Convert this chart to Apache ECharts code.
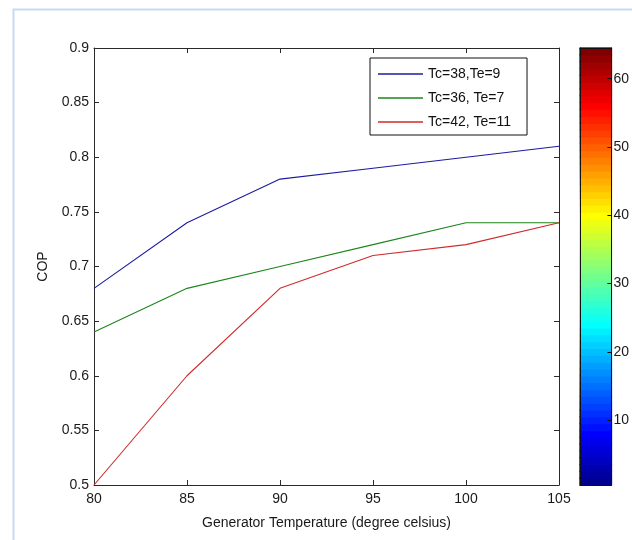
<!DOCTYPE html>
<html>
<head>
<meta charset="utf-8">
<script src="https://cdn.jsdelivr.net/npm/echarts@6/dist/echarts.min.js"></script>
<style>
html,body{margin:0;padding:0;background:#fff;}
#c{width:632px;height:540px;}
</style>
</head>
<body>
<div id="c"></div>
<script>
var xValues = [80, 85, 90, 95, 100, 105];
var seriesNames = ['Tc=38,Te=9', 'Tc=36, Te=7', 'Tc=42, Te=11'];
var copTc38 = [0.68, 0.74, 0.78, 0.79, 0.80, 0.81];
var copTc36 = [0.64, 0.68, 0.70, 0.72, 0.74, 0.74];
var copTc42 = [0.50, 0.60, 0.68, 0.71, 0.72, 0.74];
var colorbarLevels = [1,2,3,4,5,6,7,8,9,10,11,12,13,14,15,16,17,18,19,20,21,22,23,24,25,26,27,28,29,30,31,32,33,34,35,36,37,38,39,40,41,42,43,44,45,46,47,48,49,50,51,52,53,54,55,56,57,58,59,60,61,62,63,64];
var colorbarTicks = [10, 20, 30, 40, 50, 60];

var FONT = '"Liberation Sans", Arial, sans-serif';
var chart = echarts.init(document.getElementById('c'), null, {renderer: 'canvas'});

// MATLAB "jet" colormap (64 entries) as a styling function
function jetChannel(k) {
  if (k < 0 || k >= 47) return 0;
  if (k < 16) return (k + 1) / 16;
  if (k < 31) return 1;
  return (47 - k) / 16;
}
function jetColor(level) {
  var r = Math.round(255 * jetChannel(level - 25));
  var g = Math.round(255 * jetChannel(level - 9));
  var b = Math.round(255 * jetChannel(level + 7));
  return 'rgb(' + r + ',' + g + ',' + b + ')';
}

function pairs(vals) { return xValues.map(function (x, i) { return [x, vals[i]]; }); }
var lineColors = ['#1c1ca0', '#1d861d', '#d02a2a'];
var allSeries = [copTc38, copTc36, copTc42].map(function (vals, i) {
  return {
    name: seriesNames[i], type: 'line', xAxisIndex: 0, yAxisIndex: 0,
    data: pairs(vals), symbol: 'none', showSymbol: false,
    lineStyle: {color: lineColors[i], width: 1.1}, itemStyle: {color: lineColors[i]},
    z: 3, animation: false
  };
});
allSeries.push({
  type: 'heatmap', xAxisIndex: 2, yAxisIndex: 2,
  data: colorbarLevels.map(function (v, i) {
    var c = jetColor(v);
    return {value: [0, i, v], itemStyle: {color: c, borderColor: c, borderWidth: 0.8}};
  }),
  z: 1, animation: false, emphasis: {disabled: true}
});

var axisLine = {show: true, lineStyle: {color: '#2a2a2a', width: 1}};
var tickIn = {show: true, inside: true, length: 5, lineStyle: {color: '#2a2a2a'}};
var labelStyle = {fontFamily: FONT, fontSize: 14, color: '#1a1a1a'};

chart.setOption({
  backgroundColor: '#ffffff',
  animation: false,
  graphic: [{
    type: 'rect', left: 11, top: 7, shape: {x: 0, y: 0, width: 700, height: 700},
    style: {fill: 'none', stroke: '#c8daf2', lineWidth: 2}, z: 0, silent: true
  }],
  grid: [
    {left: 94, right: 73, top: 48, bottom: 55, containLabel: false},
    {left: 580, width: 35, top: 48, height: 437, containLabel: false}
  ],
  legend: {
    data: seriesNames, orient: 'vertical', left: 370, top: 58,
    padding: [9, 16, 6, 8], itemGap: 10, itemWidth: 45, itemHeight: 1.4,
    icon: 'rect', backgroundColor: '#fff', borderColor: '#111', borderWidth: 1,
    textStyle: {fontFamily: FONT, fontSize: 14, color: '#111'}, itemTextGap: 8,
    selectedMode: false
  },
  xAxis: [
    {type: 'value', gridIndex: 0, min: 80, max: 105, interval: 5, position: 'bottom',
     axisLine: axisLine, axisTick: tickIn, splitLine: {show: false},
     axisLabel: Object.assign({margin: 7}, labelStyle),
     name: 'Generator Temperature (degree celsius)', nameLocation: 'middle', nameGap: 31,
     nameTextStyle: labelStyle},
    {type: 'value', gridIndex: 0, min: 80, max: 105, interval: 5, position: 'top',
     axisLine: axisLine, axisTick: tickIn, axisLabel: {show: false}, splitLine: {show: false}},
    {type: 'category', gridIndex: 1, data: ['c'], position: 'bottom', z: 5,
     axisLine: {show: true, onZero: false, lineStyle: {color: '#111'}}, axisTick: {show: false}, axisLabel: {show: false}, splitLine: {show: false}},
    {type: 'category', gridIndex: 1, data: ['c'], position: 'top', z: 5,
     axisLine: {show: true, onZero: false, lineStyle: {color: '#111'}}, axisTick: {show: false}, axisLabel: {show: false}, splitLine: {show: false}}
  ],
  yAxis: [
    {type: 'value', gridIndex: 0, min: 0.5, max: 0.9, interval: 0.05, position: 'left',
     axisLine: axisLine, axisTick: tickIn, splitLine: {show: false},
     axisLabel: Object.assign({margin: 5, formatter: function (v) { return String(parseFloat(v.toFixed(2))); }}, labelStyle),
     name: 'COP', nameLocation: 'middle', nameGap: 44, nameRotate: 90, nameTextStyle: labelStyle},
    {type: 'value', gridIndex: 0, min: 0.5, max: 0.9, interval: 0.05, position: 'right',
     axisLine: axisLine, axisTick: tickIn, axisLabel: {show: false}, splitLine: {show: false}},
    {type: 'category', gridIndex: 1, data: colorbarLevels.map(String), position: 'right', z: 5,
     axisLine: {show: true, onZero: false, lineStyle: {color: '#111'}},
     axisTick: {show: true, inside: true, length: 4, alignWithLabel: true, lineStyle: {color: '#111'},
       interval: function (i, v) { return colorbarTicks.indexOf(Number(v)) >= 0; }},
     axisLabel: Object.assign({margin: 2, interval: function (i, v) { return colorbarTicks.indexOf(Number(v)) >= 0; }}, labelStyle),
     splitLine: {show: false}},
    {type: 'category', gridIndex: 1, data: colorbarLevels.map(String), position: 'left', z: 5,
     axisLine: {show: true, onZero: false, lineStyle: {color: '#111'}}, axisTick: {show: false}, axisLabel: {show: false}, splitLine: {show: false}}
  ],
  series: allSeries
});
</script>
</body>
</html>
